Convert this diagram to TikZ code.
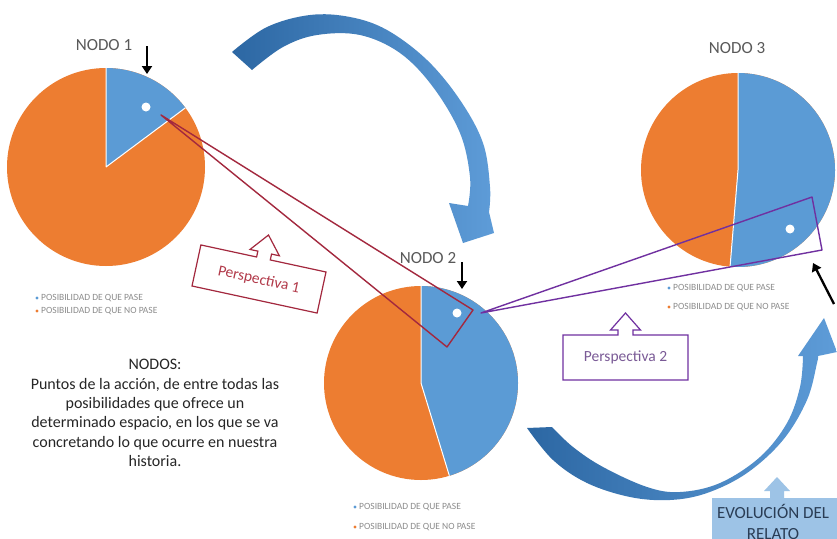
\documentclass[tikz,border=0pt]{standalone}
\usepackage{fontspec}
\setmainfont{Carlito}
\usetikzlibrary{arrows.meta}
\definecolor{pieblue}{HTML}{5B9BD5}
\definecolor{pieorange}{HTML}{ED7D31}
\definecolor{persred}{HTML}{A3283E}
\definecolor{perstextred}{HTML}{B23A4A}
\definecolor{perspurple}{HTML}{7030A0}
\definecolor{perstextpurple}{HTML}{7A5A96}
\definecolor{arrowdark}{HTML}{2C67A3}
\definecolor{arrowlight}{HTML}{5E9CD8}
\definecolor{evofill}{HTML}{9DC3E6}
\definecolor{evotext}{HTML}{2A3D55}
\definecolor{labelgray}{HTML}{595959}
\definecolor{leggray}{HTML}{8C8C8C}
\definecolor{bodytext}{HTML}{262626}
\tikzset{
  nodelabel/.style={text=labelgray, font=\fontsize{17}{20}\selectfont, inner sep=0pt},
  legtext/.style={text=leggray, font=\fontsize{9.5}{11}\selectfont, inner sep=0pt, anchor=west},
  legbullet/.style={circle, inner sep=0pt, minimum size=3.4pt},
  perstext/.style={font=\fontsize{15.5}{18}\selectfont, inner sep=0pt},
  pointer/.style={draw=black, line width=2.3pt, -{Triangle[length=8pt,width=10pt]}},
  sliceline/.style={white, line width=1pt},
  whitedot/.style={circle, fill=white, inner sep=0pt, minimum size=9pt},
}
\begin{document}
\begin{tikzpicture}[x=1pt,y=-1pt]
\useasboundingbox (0,0) rectangle (837,538);
\clip (0,0) rectangle (837,538);
\fill[white] (0,0) rectangle (837,538);

% ---------- curved arrows ----------
\shade[left color=arrowdark, right color=arrowlight]
  plot[smooth, tension=0.6] coordinates {(232,52) (267,27) (310,15) (350,17) (387,30) (427,60) (460,100) (483,143) (490,187) (489,212)}
  -- (494,233) -- (463,243) -- (449,203)
  -- plot[smooth, tension=0.6] coordinates {(468,206) (470,177) (460,133) (433,87) (400,53) (360,35) (317,35) (283,47) (252,70)}
  -- cycle;
\shade[left color=arrowdark, right color=arrowlight]
  plot[smooth, tension=0.6] coordinates {(527,428) (553,460) (587,483) (630,497) (670,500) (707,493) (747,473) (783,440) (807,400) (817,363) (818,356)}
  -- (837,352) -- (824,318) -- (798,356)
  -- plot[smooth, tension=0.6] coordinates {(803,356) (800,387) (787,423) (760,457) (720,483) (680,492) (647,487) (603,467) (573,447) (552,427)}
  -- cycle;

% ---------- pie 1 ----------
\coordinate (c1) at (106,167);
\fill[pieorange] (c1) circle[radius=99];
\fill[pieblue] (c1) -- +(-90:99) arc[start angle=-90, end angle=-36.7, radius=99] -- cycle;
\draw[sliceline] (c1) -- +(-90:99) (c1) -- +(-36.7:99);
\node[whitedot] (d1) at (146,107) {};
\node[nodelabel] (n1) at (104,45) {NODO 1};
\coordinate (a1s) at (147,46);
\coordinate (a1e) at (147,74);
\draw[pointer] (a1s) -- (a1e);
\node[legbullet, fill=pieblue] (b1a) at (37,298) {};
\node[legtext] (l1a) at (41,298) {POSIBILIDAD DE QUE PASE};
\node[legbullet, fill=pieorange] (b1b) at (37,311) {};
\node[legtext] (l1b) at (41,311) {POSIBILIDAD DE QUE NO PASE};

% ---------- pie 2 ----------
\coordinate (c2) at (421,383);
\fill[pieorange] (c2) circle[radius=97];
\fill[pieblue] (c2) -- +(-90:97) arc[start angle=-90, end angle=73, radius=97] -- cycle;
\draw[sliceline] (c2) -- +(-90:97) (c2) -- +(73:97);
\node[whitedot] (d2) at (457,313) {};
\node[nodelabel] (n2) at (428,258) {NODO 2};
\coordinate (a2s) at (462,262);
\coordinate (a2e) at (462,289);
\draw[pointer] (a2s) -- (a2e);
\node[legbullet, fill=pieblue] (b2a) at (355,507) {};
\node[legtext] (l2a) at (359,507) {POSIBILIDAD DE QUE PASE};
\node[legbullet, fill=pieorange] (b2b) at (355,527) {};
\node[legtext] (l2b) at (359,527) {POSIBILIDAD DE QUE NO PASE};

% ---------- pie 3 ----------
\coordinate (c3) at (738,170);
\fill[pieorange] (c3) circle[radius=97];
\fill[pieblue] (c3) -- +(-90:97) arc[start angle=-90, end angle=94.7, radius=97] -- cycle;
\draw[sliceline] (c3) -- +(-90:97) (c3) -- +(94.7:97);
\node[whitedot] (d3) at (790,229) {};
\node[nodelabel] (n3) at (737,48) {NODO 3};
\coordinate (a3s) at (834,304);
\coordinate (a3e) at (813,263);
\draw[pointer] (a3s) -- (a3e);
\node[legbullet, fill=pieblue] (b3a) at (669,288) {};
\node[legtext] (l3a) at (673,288) {POSIBILIDAD DE QUE PASE};
\node[legbullet, fill=pieorange] (b3b) at (669,307) {};
\node[legtext] (l3b) at (673,307) {POSIBILIDAD DE QUE NO PASE};

% ---------- perspective cones ----------
\coordinate (r1) at (161,115);
\coordinate (r2) at (473,310);
\coordinate (r3) at (447,347);
\draw[persred, line width=1.4pt, line join=round] (r1) -- (r2) -- (r3) -- cycle;
\coordinate (p1) at (481,313);
\coordinate (p2) at (812,197);
\coordinate (p3) at (822,250);
\draw[perspurple, line width=1.4pt, line join=round] (p1) -- (p2) -- (p3) -- cycle;

% ---------- callouts ----------
\begin{scope}[shift={(259,279)}, rotate=-12.2]
  \draw[persred, fill=white, line width=1.2pt, line join=miter]
    (-64,-21) -- (-7,-21) -- (-7,-27) -- (-15,-27) -- (0,-45) -- (15,-27) -- (7,-27) -- (7,-21) -- (64,-21) -- (64,21) -- (-64,21) -- cycle;
  \node[perstext, text=perstextred, rotate=-12.2] (pers1) at (0,1) {Perspectiva 1};
\end{scope}
\begin{scope}[shift={(625.5,357.5)}]
  \draw[perspurple, fill=white, line width=1.2pt, line join=miter]
    (-62.5,-22.5) -- (-7.5,-22.5) -- (-7.5,-27.5) -- (-15,-27.5) -- (0,-44.5) -- (15,-27.5) -- (7.5,-27.5) -- (7.5,-22.5) -- (62.5,-22.5) -- (62.5,22.5) -- (-62.5,22.5) -- cycle;
  \node[perstext, text=perstextpurple] (pers2) at (0,0) {Perspectiva 2};
\end{scope}

% ---------- evolución del relato ----------
\fill[evofill] (712,540) -- (712,498) -- (770,498) -- (770,491) -- (764,491) -- (777,477) -- (790,491) -- (784,491) -- (784,498) -- (840,498) -- (840,540) -- cycle;
\node[text=evotext, font=\fontsize{17}{21}\selectfont, align=center, inner sep=0pt] (evo) at (773,522) {EVOLUCIÓN DEL\\RELATO};

% ---------- text ----------
\node[text=bodytext, font=\fontsize{16}{19.3}\selectfont, align=center, inner sep=0pt] (nodos) at (155,413)
  {NODOS:\\Puntos de la acción, de entre todas las\\posibilidades que ofrece un\\determinado espacio, en los que se va\\concretando lo que ocurre en nuestra\\historia.};
\end{tikzpicture}
\end{document}
